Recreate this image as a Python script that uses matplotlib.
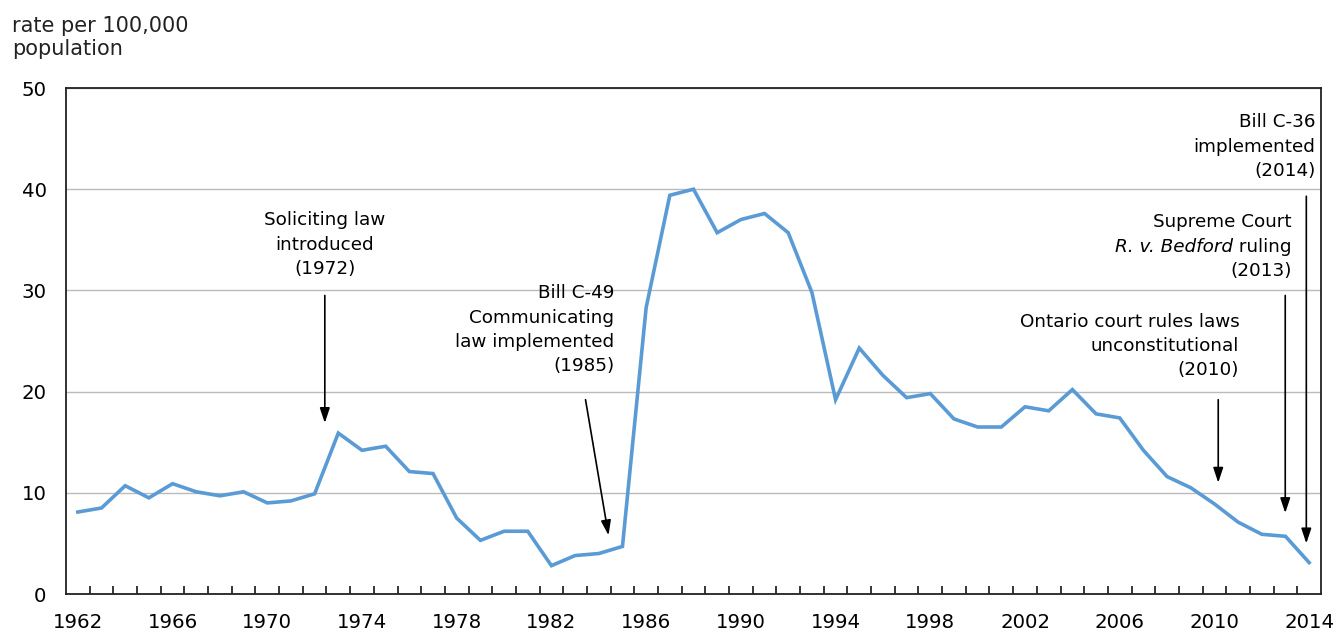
import matplotlib
matplotlib.use("Agg")
import matplotlib.pyplot as plt
import numpy as np

years = list(range(1962, 2015))
rate = [8.1, 8.5, 10.7, 9.5, 10.9, 10.1, 9.7, 10.1, 9.0, 9.2,
        9.9, 15.9, 14.2, 14.6, 12.1, 11.9, 7.5, 5.3, 6.2, 6.2,
        2.8, 3.8, 4.0, 4.7, 28.3, 39.4, 40.0, 35.7, 37.0, 37.6,
        35.7, 29.8, 19.2, 24.3, 21.6, 19.4, 19.8, 17.3, 16.5, 16.5,
        18.5, 18.1, 20.2, 17.8, 17.4, 14.2, 11.6, 10.5, 8.9, 7.1,
        5.9, 5.7, 3.1]
tick_years = list(range(1962, 2015, 4))

# (text lines, text x, text top y, arrow x tail, arrow y tail, arrow x tip, arrow y tip, ha)
notes = [
    (["Soliciting law", "introduced", "(1972)"], 1972.43, 37.8, 1972.43, 29.5, 1972.43, 16.9, "center"),
    (["Bill C-49", "Communicating", "law implemented", "(1985)"], 1984.65, 30.6, 1983.44, 19.2, 1984.41, 5.8, "right"),
    (["Ontario court rules laws", "unconstitutional", "(2010)"], 2011.05, 27.8, 2010.16, 19.2, 2010.16, 11.0, "right"),
    (["Supreme Court", "R. v. Bedford ruling", "(2013)"], 2013.25, 37.6, 2012.99, 29.5, 2012.99, 8.0, "right"),
    (["Bill C-36", "implemented", "(2014)"], 2014.26, 47.5, 2013.88, 39.3, 2013.88, 5.0, "right"),
]

fig = plt.figure(figsize=(13.38, 6.32), dpi=100)
ax = fig.add_axes([66 / 1338, 38 / 632, (1321 - 66) / 1338, (594 - 88) / 632])

ax.plot(years, rate, color="#5B9BD5", lw=2.6, solid_joinstyle="miter", zorder=3)

ax.set_xlim(1961.5, 2014.5)
ax.set_ylim(0, 50)
ax.set_yticks([0, 10, 20, 30, 40, 50])
ax.set_xticks(tick_years)
ax.set_xticks(np.arange(1962.5, 2014, 1.0), minor=True)
ax.tick_params(axis="x", which="major", length=0, pad=14, labelsize=14.2)
ax.tick_params(axis="x", which="minor", length=5.8, width=1.1, direction="in")
ax.tick_params(axis="y", length=0, pad=14, labelsize=14.2)
ax.yaxis.grid(True, color="#BBBBBB", lw=1.0)
ax.set_axisbelow(True)
for s in ax.spines.values():
    s.set_linewidth(1.3)
    s.set_color("#222222")

fs = 13.2
step = 17.5  # points between lines
for lines, tx, ty, ax0, ay0, ax1, ay1, ha in notes:
    for i, line in enumerate(lines):
        if line.startswith("R. v. Bedford"):
            t = ax.annotate(" ruling", xy=(tx, ty), xytext=(0, -i * step), textcoords="offset points",
                            ha="right", va="top", fontsize=fs)
            ax.annotate("R. v. Bedford", xy=(0, 0), xycoords=t, ha="right", va="bottom",
                        fontsize=fs, style="italic")
        else:
            ax.annotate(line, xy=(tx, ty), xytext=(0, -i * step), textcoords="offset points",
                        ha=ha, va="top", fontsize=fs)
    ax.annotate("", xy=(ax1, ay1), xytext=(ax0, ay0),
                arrowprops=dict(arrowstyle="-|>,head_length=0.9,head_width=0.3",
                                color="black", lw=1.2, shrinkA=0, shrinkB=0))

fig.text(12 / 1338, 1 - 32 / 632, "rate per 100,000", fontsize=15, va="baseline", color="#222222")
fig.text(12 / 1338, 1 - 55 / 632, "population", fontsize=15, va="baseline", color="#222222")

fig.savefig("out.png", dpi=100)
